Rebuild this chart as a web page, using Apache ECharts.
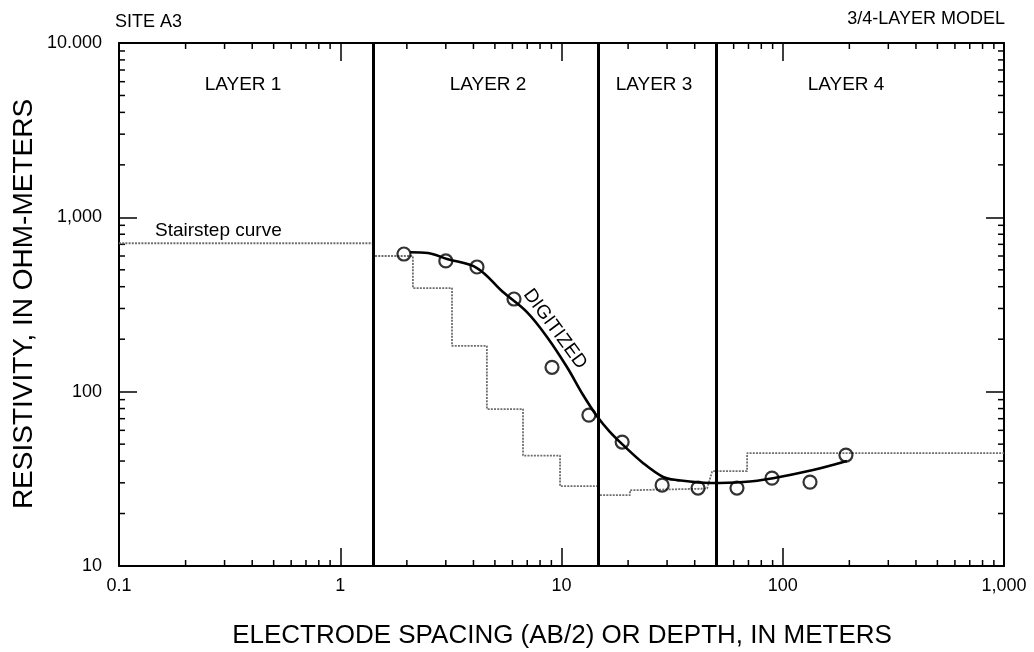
<!DOCTYPE html>
<html><head><meta charset="utf-8">
<script src="https://cdn.jsdelivr.net/npm/echarts@6/dist/echarts.min.js"></script>
<style>html,body{margin:0;padding:0;background:#fff}#c{width:1034px;height:652px}</style>
</head><body><div id="c"></div>
<script>
// Axis ticks
const xTickValues = [0.1, 1, 10, 100, 1000];
const xTickLabels = ['0.1', '1', '10', '100', '1,000'];
const yTickValues = [10, 100, 1000, 10000];
const yTickLabels = ['10', '100', '1,000', '10.000'];
const xMinorTicks = [0.2,0.3,0.4,0.5,0.6,0.7,0.8,0.9, 2,3,4,5,6,7,8,9, 20,30,40,50,60,70,80,90, 200,300,400,500,600,700,800,900];
const yMinorTicks = [20,30,40,50,60,70,80,90, 200,300,400,500,600,700,800,900, 2000,3000,4000,5000,6000,7000,8000,9000];

// Layer model
const layerBoundaries = [1.41, 14.6, 50];
const layerNames = ['LAYER 1', 'LAYER 2', 'LAYER 3', 'LAYER 4'];

const spacingObserved = [1.94, 3.0, 4.15, 6.1, 9.06, 13.3, 18.8, 28.5, 41.4, 62.1, 89.4, 132.8, 193];
const resistivityObserved = [616, 562, 519, 340, 138, 73.4, 51.4, 29.1, 28.0, 28.0, 31.9, 30.3, 43.3];

const curveSpacing = [2.07, 2.49, 3.04, 4.15, 5.44, 6.98, 8.6, 10.6, 12.5, 14.5, 16.5, 18.8, 23.4, 28.8, 33.3, 46.9, 66.1, 90.4, 137, 195];
const curveResistivity = [630, 624, 577, 512, 373, 286, 206, 138, 96, 72, 59, 50, 38.9, 32.4, 31.1, 29.9, 30.3, 31.9, 35.5, 40];

// Stairstep curve
const stairDepth = [0.1, 1.41, 1.41, 2.13, 2.13, 3.2, 3.2, 4.6, 4.6, 6.7, 6.7, 9.85, 9.85, 14.6, 14.6, 20.4, 20.4, 45.5, 48.0, 69, 69, 1000];
const stairResistivity = [710, 710, 600, 600, 393, 393, 183, 183, 79.5, 79.5, 43, 43, 28.7, 28.7, 25.5, 25.5, 27.2, 27.8, 35, 35, 44.4, 44.4];

const FONT = '"Liberation Sans", Arial, Helvetica, sans-serif';

function fmt(values, labels) {
  return function (v) {
    for (let i = 0; i < values.length; i++) {
      if (Math.abs(Math.log10(values[i]) - Math.log10(v)) < 1e-6) return labels[i];
    }
    return '';
  };
}

const zip = (a, b) => a.map((v, i) => [v, b[i]]);

const chart = echarts.init(document.getElementById('c'), null, {renderer: 'canvas'});

const axisBase = {
  type: 'log', logBase: 10,
  axisLine: {show: true, lineStyle: {color: '#000', width: 2}},
  axisTick: {show: true, inside: true, length: 18, lineStyle: {color: '#000', width: 1.5}},
  splitLine: {show: false},
  minorTick: {show: false}
};

const option = {
  animation: false,
  backgroundColor: '#fff',
  grid: {left: 119, right: 30, top: 43, bottom: 86, containLabel: false},
  xAxis: [
    Object.assign({}, axisBase, {
      position: 'bottom', min: 0.1, max: 1000,
      axisLabel: {show: true, margin: 11, color: '#000', fontSize: 18, fontFamily: FONT,
        formatter: fmt(xTickValues, xTickLabels), showMinLabel: true, showMaxLabel: true}
    }),
    Object.assign({}, axisBase, {
      position: 'top', min: 0.1, max: 1000, axisLabel: {show: false}
    })
  ],
  yAxis: [
    Object.assign({}, axisBase, {
      position: 'left', min: 10, max: 10000,
      axisLabel: {show: true, margin: 17, color: '#000', fontSize: 18, fontFamily: FONT,
        formatter: fmt(yTickValues, yTickLabels), showMinLabel: true, showMaxLabel: true}
    }),
    Object.assign({}, axisBase, {
      position: 'right', min: 10, max: 10000, axisLabel: {show: false}
    })
  ],
  series: [
    {
      type: 'custom', name: 'xminor', silent: true, xAxisIndex: 0, yAxisIndex: 0,
      data: xMinorTicks.map(v => [v, 10]),
      encode: {x: 0, y: 1},
      renderItem: function (params, api) {
        const v = api.value(0);
        const b = api.coord([v, 10]);
        const t = api.coord([v, 10000]);
        return {type: 'group', children: [
          {type: 'line', shape: {x1: b[0], y1: b[1], x2: b[0], y2: b[1] - 6}, style: {stroke: '#000', lineWidth: 1.5}},
          {type: 'line', shape: {x1: t[0], y1: t[1], x2: t[0], y2: t[1] + 6}, style: {stroke: '#000', lineWidth: 1.5}}
        ]};
      }
    },
    {
      type: 'custom', name: 'yminor', silent: true, xAxisIndex: 0, yAxisIndex: 0,
      data: yMinorTicks.map(v => [0.1, v]),
      encode: {x: 0, y: 1},
      renderItem: function (params, api) {
        const v = api.value(1);
        const l = api.coord([0.1, v]);
        const r = api.coord([1000, v]);
        return {type: 'group', children: [
          {type: 'line', shape: {x1: l[0], y1: l[1], x2: l[0] + 6, y2: l[1]}, style: {stroke: '#000', lineWidth: 1.5}},
          {type: 'line', shape: {x1: r[0], y1: r[1], x2: r[0] - 6, y2: r[1]}, style: {stroke: '#000', lineWidth: 1.5}}
        ]};
      }
    },
    {
      type: 'line', name: 'Stairstep curve', data: zip(stairDepth, stairResistivity),
      symbol: 'none', z: 2,
      lineStyle: {color: '#6e6e6e', width: 1.8, type: [2, 1.2]}
    },
    {
      type: 'line', name: 'Digitized', data: zip(curveSpacing, curveResistivity),
      symbol: 'none', smooth: 0.35, z: 3,
      lineStyle: {color: '#000', width: 2.6},
      markLine: {
        silent: true, symbol: 'none', animation: false,
        label: {show: false},
        lineStyle: {color: '#000', width: 3, type: 'solid'},
        data: layerBoundaries.map(v => ({xAxis: v}))
      }
    },
    {
      type: 'scatter', name: 'Observed', data: zip(spacingObserved, resistivityObserved),
      symbol: 'circle', symbolSize: 13, z: 4,
      itemStyle: {color: 'rgba(255,255,255,0)', borderColor: '#000', borderWidth: 2.2}
    }
  ],
  graphic: [
    {type: 'text', x: 115, y: 22, style: {text: 'SITE A3', font: '18px ' + FONT, fill: '#000', textAlign: 'left', textVerticalAlign: 'middle'}},
    {type: 'text', x: 1005, y: 19, style: {text: '3/4-LAYER MODEL', font: '18px ' + FONT, fill: '#000', textAlign: 'right', textVerticalAlign: 'middle'}},
    {type: 'text', x: 243, y: 85, style: {text: layerNames[0], font: '19px ' + FONT, fill: '#000', textAlign: 'center', textVerticalAlign: 'middle'}},
    {type: 'text', x: 488, y: 85, style: {text: layerNames[1], font: '19px ' + FONT, fill: '#000', textAlign: 'center', textVerticalAlign: 'middle'}},
    {type: 'text', x: 654, y: 85, style: {text: layerNames[2], font: '19px ' + FONT, fill: '#000', textAlign: 'center', textVerticalAlign: 'middle'}},
    {type: 'text', x: 846, y: 85, style: {text: layerNames[3], font: '19px ' + FONT, fill: '#000', textAlign: 'center', textVerticalAlign: 'middle'}},
    {type: 'text', x: 155, y: 231, style: {text: 'Stairstep curve', font: '19px ' + FONT, fill: '#000', textAlign: 'left', textVerticalAlign: 'middle'}},
    {type: 'text', x: 555, y: 329, rotation: -0.937, style: {text: 'DIGITIZED', font: '19px ' + FONT, fill: '#000', textAlign: 'center', textVerticalAlign: 'middle'}},
    {type: 'text', x: 562, y: 636, style: {text: 'ELECTRODE SPACING (AB/2) OR DEPTH, IN METERS', font: '26px ' + FONT, fill: '#000', textAlign: 'center', textVerticalAlign: 'middle'}},
    {type: 'text', x: 24, y: 304, rotation: Math.PI / 2, style: {text: 'RESISTIVITY, IN OHM-METERS', font: '28px ' + FONT, fill: '#000', textAlign: 'center', textVerticalAlign: 'middle'}}
  ]
};
chart.setOption(option);
</script>
</body></html>
